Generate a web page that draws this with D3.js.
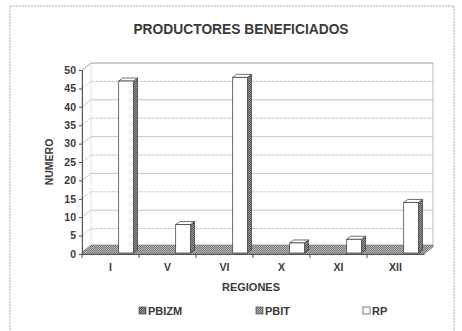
<!DOCTYPE html>
<html lang="es">
<head>
<meta charset="utf-8">
<title>Productores beneficiados</title>
<script src="https://d3js.org/d3.v7.min.js"></script>
<style>
  body { margin: 0; background: #fff; }
  text { font-family: "Liberation Sans", Arial, sans-serif; font-weight: bold; fill: #3a3a3a; }
</style>
</head>
<body>
<script>
// datos
var regiones = ["I", "V", "VI", "X", "XI", "XII"];
var series = ["PBIZM", "PBIT", "RP"];
var pbizm = [0, 0, 0, 0, 0, 0];
var pbit = [0, 0, 0, 0, 0, 0];
var rp = [47, 8, 48, 3, 4, 14];
var yTicks = [0, 5, 10, 15, 20, 25, 30, 35, 40, 45, 50];

var width = 462, height = 331;
var svg = d3.select("body").append("svg")
    .attr("width", width).attr("height", height);

// tramas
var defs = svg.append("defs");
function trama(id, bg, dot) {
    var p = defs.append("pattern").attr("id", id)
        .attr("width", 2).attr("height", 2).attr("patternUnits", "userSpaceOnUse");
    p.append("rect").attr("width", 2).attr("height", 2).attr("fill", bg);
    p.append("rect").attr("width", 1).attr("height", 1).attr("fill", dot);
    p.append("rect").attr("x", 1).attr("y", 1).attr("width", 1).attr("height", 1).attr("fill", dot);
}
trama("t1", "#b5b5b5", "#7a7a7a");
trama("t2", "#aaa", "#777");
trama("t3", "#999", "#555");

// marco
svg.append("rect").attr("x", 10).attr("y", 6).attr("width", 444).attr("height", 330)
    .attr("fill", "none").attr("stroke", "#aaa").attr("stroke-dasharray", "2,1");

svg.append("text").attr("x", 241).attr("y", 34).attr("text-anchor", "middle")
    .attr("font-size", 13.8).text("PRODUCTORES BENEFICIADOS");

var x0 = 82, x1 = 424, dx = 9, dy = -7;
var x = d3.scaleBand().domain(regiones).range([x0, x1]);
var xs = d3.scaleBand().domain(series).range([0, x.bandwidth()]).paddingInner(0.05).paddingOuter(0.35);
var y = d3.scaleLinear().domain([0, 50]).range([254, 70]);

// paredes y lineas de division
var g = svg.append("g");
g.selectAll(".grid").data(yTicks.slice(1)).enter().append("polyline")
    .attr("points", function(d) { return [x0, y(d), x0 + dx, y(d) + dy, x1 + dx, y(d) + dy].join(" "); })
    .attr("fill", "none").attr("stroke", "#b8b8b8").attr("stroke-width", 0.8)
    .attr("stroke-dasharray", function(d, i) { return i % 2 ? "none" : "3,1"; });
g.append("polyline")
    .attr("points", [x0, y(0), x0, y(50), x0 + dx, y(50) + dy, x1 + dx, y(50) + dy, x1 + dx, y(0) + dy].join(" "))
    .attr("fill", "none").attr("stroke", "#aaa").attr("stroke-width", 0.8);
g.append("line").attr("x1", x0 + dx).attr("x2", x0 + dx).attr("y1", y(50) + dy).attr("y2", y(0) + dy)
    .attr("stroke", "#ccc").attr("stroke-width", 0.6);

// piso
g.append("path")
    .attr("d", "M" + [x0, y(0)] + "L" + [x1, y(0)] + "L" + [x1 + dx, y(0) + dy] + "L" + [x1 + dx, y(0) + dy - 2] +
        "L" + [x0 + dx, y(0) + dy - 2] + "L" + [x0, y(0) - 2] + "Z")
    .attr("fill", "url(#t1)").attr("stroke", "#777").attr("stroke-width", 0.6);

// eje y
var yAxis = d3.axisLeft(y).tickValues(yTicks).tickSize(3).tickPadding(3);
var ga = svg.append("g").attr("transform", "translate(" + x0 + ",0)").call(yAxis);
ga.select(".domain").attr("stroke", "#555");
ga.selectAll(".tick line").attr("stroke", "#555");
ga.selectAll(".tick text").attr("font-size", 10.5).attr("font-family", null).attr("fill", null);

// eje x
var xAxis = d3.axisBottom(x).tickSize(0).tickPadding(10);
var gx = svg.append("g").attr("transform", "translate(0," + y(0) + ")").call(xAxis);
gx.select(".domain").attr("stroke", "#555");
gx.selectAll(".tick text").attr("font-size", 10.5).attr("font-family", null).attr("fill", null);
gx.selectAll(".sep").data(regiones).enter().append("line")
    .attr("x1", function(d) { return x(d); }).attr("x2", function(d) { return x(d); })
    .attr("y1", 0).attr("y2", 4).attr("stroke", "#555");

// barras 3D
var bd = 4, bh = -3;
var valores = {PBIZM: pbizm, PBIT: pbit, RP: rp};
var caras = {PBIZM: ["url(#t3)", "url(#t3)", "url(#t3)"], PBIT: ["url(#t2)", "url(#t2)", "url(#t2)"], RP: ["#fff", "#fff", "url(#t3)"]};
series.forEach(function(s) {
    regiones.forEach(function(r, i) {
        var v = valores[s][i];
        if (v <= 0) return;
        var bx = x(r) + xs(s), w = xs.bandwidth(), top = y(v), bot = y(0) - 1;
        var c = caras[s];
        // lateral
        svg.append("path").attr("d", "M" + [bx + w, bot] + "L" + [bx + w + bd, bot + bh] + "L" + [bx + w + bd, top + bh] + "L" + [bx + w, top] + "Z")
            .attr("fill", c[2]).attr("stroke", "#333").attr("stroke-width", 0.7);
        // superior
        svg.append("path").attr("d", "M" + [bx, top] + "L" + [bx + bd, top + bh] + "L" + [bx + w + bd, top + bh] + "L" + [bx + w, top] + "Z")
            .attr("fill", c[1]).attr("stroke", "#333").attr("stroke-width", 0.7);
        // frente
        svg.append("rect").attr("x", bx).attr("y", top).attr("width", w).attr("height", bot - top)
            .attr("fill", c[0]).attr("stroke", "#333").attr("stroke-width", 0.7);
    });
});

svg.append("text").attr("transform", "translate(53,162) rotate(-90)").attr("text-anchor", "middle")
    .attr("font-size", 10.5).text("NUMERO");
svg.append("text").attr("x", 251).attr("y", 291).attr("text-anchor", "middle")
    .attr("font-size", 11).text("REGIONES");

// leyenda
var leyX = [139, 256, 363];
var leyFill = ["url(#t3)", "url(#t2)", "#fff"];
var ley = svg.selectAll(".ley").data(series).enter().append("g")
    .attr("transform", function(d, i) { return "translate(" + leyX[i] + ",307)"; });
ley.append("rect").attr("width", 7).attr("height", 7)
    .attr("fill", function(d, i) { return leyFill[i]; }).attr("stroke", "#444").attr("stroke-width", 0.7);
ley.append("text").attr("x", 9).attr("y", 7.5).attr("font-size", 11).text(function(d) { return d; });
</script>
</body>
</html>
